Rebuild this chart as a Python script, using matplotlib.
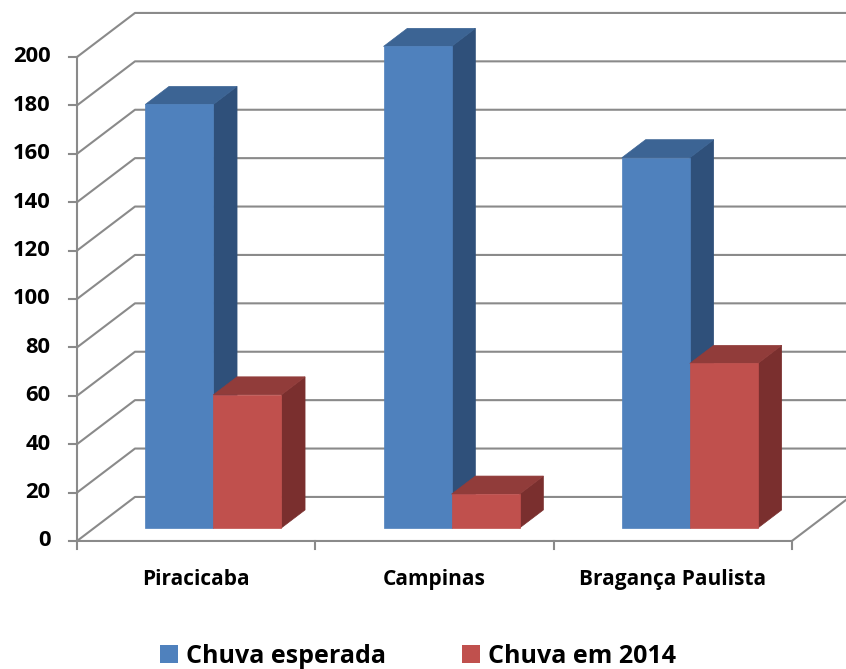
import numpy as np
import matplotlib.pyplot as plt
from matplotlib.patches import Polygon, Rectangle

cidades = ['Piracicaba', 'Campinas', 'Bragança Paulista']
chuva_esperada = [175, 199, 153]
chuva_2014 = [55, 14, 68]
series = ['Chuva esperada', 'Chuva em 2014']
yticks = np.arange(0, 201, 20)

# excel-ish colors: front, top, side
cores = [('#4F81BD', '#3C6494', '#2F507A'),
         ('#C0504D', '#913C3A', '#7A2F2E')]
grid_cor = '#8A8A8A'

# fake 3d: depth offset in data units
DX = 0.2434   # category units
DY = 18.2     # value units
d0, d1 = 0.295, 0.705   # bar front/back depth
w = 0.2854              # bar width

plt.rcParams['font.family'] = ['Open Sans', 'DejaVu Sans']

fig = plt.figure(figsize=(8.46, 6.69), dpi=100)
ax = fig.add_axes([0, 0, 1, 1])
ax.set_xlim(-0.3231, 3.227)
ax.set_ylim(-52.9, 223.55)
ax.axis('off')

def proj(x, v, d):
    return (x + d * DX, v + d * DY)

# walls / gridlines
for v in yticks:
    ax.plot([0, DX, 3 + DX + 0.5], [v, v + DY, v + DY], color=grid_cor, lw=1.5,
            solid_capstyle='butt', zorder=1)
ax.plot([0, 0], [0, 200], color=grid_cor, lw=1.5, zorder=1)
ax.plot([0, 3, 3 + DX], [0, 0, DY], color=grid_cor, lw=1.5, zorder=1)
for v in yticks:
    ax.plot([-0.034, 0], [v, v], color=grid_cor, lw=1.5, zorder=1)
for i in range(4):
    ax.plot([i, i], [0, -3.3], color=grid_cor, lw=1.5, zorder=1)

# bars
for i in range(len(cidades)):
    c = i + 0.5
    for s, vals in enumerate([chuva_esperada, chuva_2014]):
        v = vals[i]
        x0 = c - w + s * w
        x1 = x0 + w
        front = [proj(x0, 0, d0), proj(x1, 0, d0), proj(x1, v, d0), proj(x0, v, d0)]
        top = [proj(x0, v, d0), proj(x1, v, d0), proj(x1, v, d1), proj(x0, v, d1)]
        side = [proj(x1, 0, d0), proj(x1, v, d0), proj(x1, v, d1), proj(x1, 0, d1)]
        fc, tc, sc = cores[s]
        for pts, col in [(side, sc), (top, tc), (front, fc)]:
            ax.add_patch(Polygon(pts, closed=True, facecolor=col, edgecolor=col,
                                 lw=0.5, zorder=2 + i * 2 + s))

# labels
for v in yticks:
    ax.text(-0.112, v, str(v), ha='right', va='center', fontsize=15.8,
            fontweight='bold')
for i, nome in enumerate(cidades):
    ax.text(i + 0.5, -16, nome, ha='center', va='center', fontsize=15,
            fontweight='bold')

# legend (manual, in axes fraction)
leg_x = [0.189, 0.546]
for s in range(2):
    ax.add_patch(Rectangle((leg_x[s], 0.0085), 0.0213, 0.027, transform=ax.transAxes,
                           facecolor=cores[s][0], edgecolor='none', clip_on=False))
    ax.text(leg_x[s] + 0.031, 0.019, series[s], transform=ax.transAxes,
            ha='left', va='center', fontsize=18, fontweight='bold')

fig.savefig('out.png', dpi=100)
